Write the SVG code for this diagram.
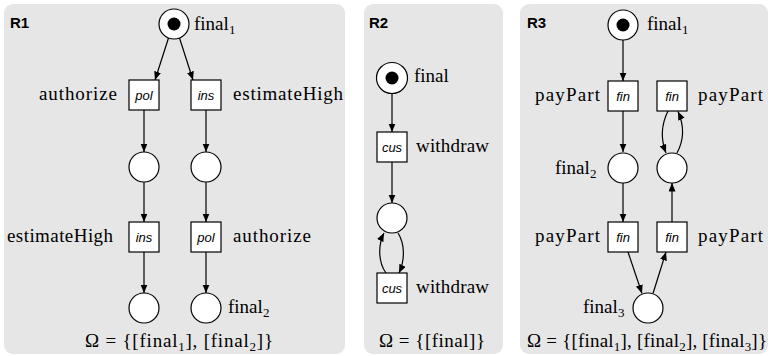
<svg xmlns="http://www.w3.org/2000/svg" width="771" height="356" viewBox="0 0 771 356">
<defs>
<marker id="ah" markerUnits="userSpaceOnUse" markerWidth="9" markerHeight="8" refX="8.5" refY="3.5" orient="auto">
<path d="M0,0 L8.5,3.5 L0,7 z" fill="#000"/>
</marker>
</defs>
<style>
.panel{fill:#e6e6e6;stroke:none}
.pl{fill:#fff;stroke:#000;stroke-width:1.2}
.tr{fill:#fff;stroke:#000;stroke-width:1.2}
.tok{fill:#000}
.arc{fill:none;stroke:#000;stroke-width:1.2;marker-end:url(#ah)}
.lbl{font-family:"Liberation Serif","Times New Roman",serif;font-size:19px;fill:#000}
.sub{font-family:"Liberation Serif","Times New Roman",serif;font-size:13px;fill:#000}
.tl{font-family:"Liberation Sans",Arial,sans-serif;font-style:italic;font-size:13px;fill:#000;text-anchor:middle}
.hd{font-family:"Liberation Sans",Arial,sans-serif;font-weight:bold;font-size:15px;fill:#000}
.om{font-family:"Liberation Serif","Times New Roman",serif;font-size:19px;fill:#000;text-anchor:middle}
</style>
<rect class="panel" x="4" y="4" width="341" height="350" rx="9"/>
<rect class="panel" x="364" y="4" width="139" height="350" rx="9"/>
<rect class="panel" x="520" y="4" width="248" height="350" rx="9"/>
<text class="hd" x="10" y="28">R1</text>
<text class="hd" x="369" y="28">R2</text>
<text class="hd" x="527" y="28">R3</text>
<g id="connectors">
<path class="arc" d="M168.5,38 L155,80"/>
<path class="arc" d="M179.5,38 L193,80"/>
<path class="arc" d="M144,110 L144,152"/>
<path class="arc" d="M206,110 L206,152"/>
<path class="arc" d="M144,182 L144,222"/>
<path class="arc" d="M206,182 L206,222"/>
<path class="arc" d="M144,252 L144,293"/>
<path class="arc" d="M206,252 L206,293"/>
<path class="arc" d="M392,93.5 L392,132"/>
<path class="arc" d="M392,162 L392,203"/>
<path class="arc" d="M386,273 C378,262 378,245 384,233"/>
<path class="arc" d="M398,233 C405,244 405,260 399,273"/>
<path class="arc" d="M623,40 L623,81"/>
<path class="arc" d="M623,111 L623,152"/>
<path class="arc" d="M623,183 L623,222"/>
<path class="arc" d="M628,252 L642,293.5"/>
<path class="arc" d="M653,293.5 L666,252"/>
<path class="arc" d="M672,222 L672,183"/>
<path class="arc" d="M668,111 C661,125 661,140 666,153"/>
<path class="arc" d="M677,153 C684,140 684,125 678,111.5"/>
</g>
<g id="r1_p1"><circle class="pl" cx="174" cy="24" r="15"/><circle class="tok" cx="174" cy="24" r="6.5"/><text class="lbl" x="194" y="30">final</text><text class="sub" x="229" y="34">1</text></g>
<g id="r1_t1"><rect class="tr" x="129" y="80" width="30" height="30"/><text class="tl" x="144" y="100">pol</text><text class="lbl" x="117" y="100" text-anchor="end" textLength="78" lengthAdjust="spacing">authorize</text></g>
<g id="r1_t2"><rect class="tr" x="191" y="80" width="30" height="30"/><text class="tl" x="206" y="100">ins</text><text class="lbl" x="233" y="100" textLength="110" lengthAdjust="spacing">estimateHigh</text></g>
<g id="r1_p2"><circle class="pl" cx="144" cy="167" r="15"/></g>
<g id="r1_p3"><circle class="pl" cx="206" cy="167" r="15"/></g>
<g id="r1_t3"><rect class="tr" x="129" y="222" width="30" height="30"/><text class="tl" x="144" y="242">ins</text><text class="lbl" x="113" y="242" text-anchor="end" textLength="106" lengthAdjust="spacing">estimateHigh</text></g>
<g id="r1_t4"><rect class="tr" x="191" y="222" width="30" height="30"/><text class="tl" x="206" y="242">pol</text><text class="lbl" x="233" y="242" textLength="78" lengthAdjust="spacing">authorize</text></g>
<g id="r1_p4"><circle class="pl" cx="144" cy="308" r="15"/></g>
<g id="r1_p5"><circle class="pl" cx="206" cy="308" r="15"/><text class="lbl" x="228" y="313">final</text><text class="sub" x="263" y="317">2</text></g>
<text class="om" x="179" y="347" textLength="188" lengthAdjust="spacing">Ω = {[final<tspan font-size="13" dy="4">1</tspan><tspan dy="-4">], [final</tspan><tspan font-size="13" dy="4">2</tspan><tspan dy="-4">]}</tspan></text>
<g id="r2_p1"><circle class="pl" cx="392" cy="78" r="15.5"/><circle class="tok" cx="392" cy="78" r="6.5"/><text class="lbl" x="414" y="82">final</text></g>
<g id="r2_t1"><rect class="tr" x="377" y="132" width="30" height="30"/><text class="tl" x="392" y="152">cus</text><text class="lbl" x="416" y="152" textLength="73" lengthAdjust="spacing">withdraw</text></g>
<g id="r2_p2"><circle class="pl" cx="392" cy="218" r="15"/></g>
<g id="r2_t2"><rect class="tr" x="377" y="273" width="30" height="30"/><text class="tl" x="392" y="293">cus</text><text class="lbl" x="416" y="293" textLength="73" lengthAdjust="spacing">withdraw</text></g>
<text class="om" x="432" y="347" textLength="106" lengthAdjust="spacing">Ω = {[final]}</text>
<g id="r3_p1"><circle class="pl" cx="623" cy="25" r="15"/><circle class="tok" cx="623" cy="25" r="6.5"/><text class="lbl" x="647" y="30">final</text><text class="sub" x="682" y="34">1</text></g>
<g id="r3_t1"><rect class="tr" x="608" y="81" width="30" height="30"/><text class="tl" x="623" y="101">fin</text><text class="lbl" x="600" y="101" text-anchor="end" textLength="65" lengthAdjust="spacing">payPart</text></g>
<g id="r3_t2"><rect class="tr" x="657" y="81" width="30" height="30"/><text class="tl" x="672" y="101">fin</text><text class="lbl" x="698" y="101" textLength="65" lengthAdjust="spacing">payPart</text></g>
<g id="r3_p2"><circle class="pl" cx="623" cy="168" r="15"/><text class="lbl" x="555" y="174">final</text><text class="sub" x="590" y="178">2</text></g>
<g id="r3_p3"><circle class="pl" cx="672" cy="168" r="15"/></g>
<g id="r3_t3"><rect class="tr" x="608" y="222" width="30" height="30"/><text class="tl" x="623" y="242">fin</text><text class="lbl" x="600" y="242" text-anchor="end" textLength="65" lengthAdjust="spacing">payPart</text></g>
<g id="r3_t4"><rect class="tr" x="657" y="222" width="30" height="30"/><text class="tl" x="672" y="242">fin</text><text class="lbl" x="698" y="242" textLength="65" lengthAdjust="spacing">payPart</text></g>
<g id="r3_p4"><circle class="pl" cx="648" cy="308" r="15"/><text class="lbl" x="583" y="313">final</text><text class="sub" x="618" y="317">3</text></g>
<text class="om" x="647" y="347" textLength="240" lengthAdjust="spacing">Ω = {[final<tspan font-size="13" dy="4">1</tspan><tspan dy="-4">], [final</tspan><tspan font-size="13" dy="4">2</tspan><tspan dy="-4">], [final</tspan><tspan font-size="13" dy="4">3</tspan><tspan dy="-4">]}</tspan></text>
</svg>
